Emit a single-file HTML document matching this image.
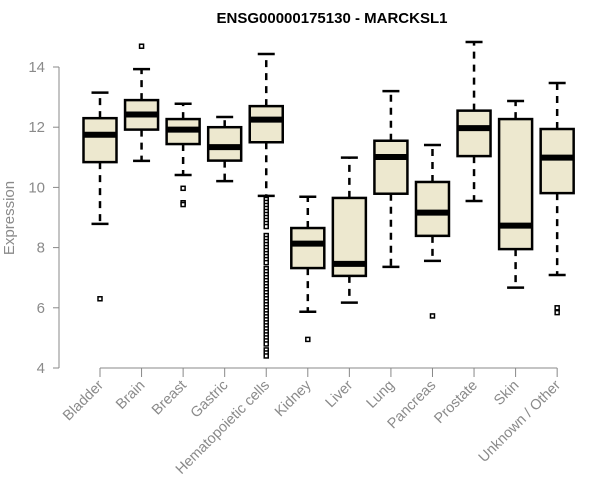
<!DOCTYPE html>
<html><head><meta charset="utf-8"><style>
body{margin:0;background:#fff;}
svg{display:block;font-family:"Liberation Sans",Arial,sans-serif;}
</style></head><body>
<svg id="chart" width="600" height="500">
<text x="332" y="23" text-anchor="middle" font-size="15" font-weight="bold">ENSG00000175130 - MARCKSL1</text>
<text transform="translate(14,218) rotate(-90)" text-anchor="middle" font-size="15" fill="#8a8a8a">Expression</text>
<g id="yaxis"></g>
<g id="xaxis"></g>
<g id="boxes"></g>
</svg>
<script>
const categories=["Bladder","Brain","Breast","Gastric","Hematopoietic cells","Kidney","Liver","Lung","Pancreas","Prostate","Skin","Unknown / Other"];
const whiskerLow=[8.79,10.88,10.41,10.21,9.72,5.87,6.17,7.36,7.56,9.55,6.67,7.09];
const q1=[10.84,11.92,11.44,10.89,11.5,7.32,7.06,9.79,8.39,11.04,7.95,9.81];
const medians=[11.75,12.42,11.92,11.34,12.25,8.13,7.46,11.01,9.16,11.97,8.73,10.99];
const q3=[12.3,12.9,12.27,12.0,12.7,8.65,9.65,11.55,10.18,12.55,12.27,11.94];
const whiskerHigh=[13.15,13.93,12.78,12.34,14.43,9.69,10.99,13.2,11.41,14.83,12.87,13.47];
const outliers=[[6.3],[14.69],[9.97,9.49,9.43],[],
[9.6,9.5,9.4,9.3,9.2,9.1,9.0,8.9,8.8,8.7,8.4,8.3,8.2,8.1,8.0,7.9,7.8,7.7,7.6,7.5,7.3,7.2,7.1,7.0,6.9,6.8,6.7,6.6,6.5,6.4,6.3,6.2,6.1,6.0,5.9,5.8,5.7,5.6,5.5,5.4,5.3,5.2,5.1,5.0,4.9,4.8,4.6,4.5,4.4],
[4.95],[],[],[5.73],[],[],[6.0,5.84]];
const yTicks=[4,6,8,10,12,14];
const NS="http://www.w3.org/2000/svg";
const y=v=>368-(v-4)*30.1;
const x=i=>100+i*41.56;
function mk(tag,attrs,parent){const e=document.createElementNS(NS,tag);for(const k in attrs)e.setAttribute(k,attrs[k]);parent.appendChild(e);return e;}
const ya=document.getElementById('yaxis'),xa=document.getElementById('xaxis'),bx=document.getElementById('boxes');
let l=mk('line',{x1:59,x2:59,y1:y(14),y2:y(4),stroke:'#888'},ya);


yTicks.forEach(t=>{
 let tk=mk('line',{x1:53,x2:59,y1:y(t),y2:y(t),stroke:'#888'},ya);
 
 
 let tx=mk('text',{x:45,y:y(t)+5,'text-anchor':'end','font-size':15,fill:'#8a8a8a'},ya);
 tx.textContent=t;
 
 
});
l=mk('line',{x1:x(0),x2:x(categories.length-1),y1:368,y2:368,stroke:'#888'},xa);


categories.forEach((c,i)=>{
 let tk=mk('line',{x1:x(i),x2:x(i),y1:368,y2:377,stroke:'#888'},xa);
 
 
 let tx=mk('text',{transform:`translate(${x(i)+4},${386}) rotate(-45)`,'text-anchor':'end','font-size':14.5,fill:'#8a8a8a'},xa);
 tx.textContent=c;
 
 
 const g=mk('g',{},bx);
 
 
 const cx=x(i),hw=16.5,cw=8.5;
 mk('line',{x1:cx,x2:cx,y1:y(q3[i]),y2:y(whiskerHigh[i]),stroke:'#000','stroke-width':2.5,'stroke-dasharray':'7,6'},g);
 mk('line',{x1:cx,x2:cx,y1:y(q1[i]),y2:y(whiskerLow[i]),stroke:'#000','stroke-width':2.5,'stroke-dasharray':'7,6'},g);
 mk('line',{x1:cx-cw,x2:cx+cw,y1:y(whiskerHigh[i]),y2:y(whiskerHigh[i]),stroke:'#000','stroke-width':2.5},g);
 mk('line',{x1:cx-cw,x2:cx+cw,y1:y(whiskerLow[i]),y2:y(whiskerLow[i]),stroke:'#000','stroke-width':2.5},g);
 mk('rect',{x:cx-hw,y:y(q3[i]),width:2*hw,height:y(q1[i])-y(q3[i]),fill:'#ede8cf',stroke:'#000','stroke-width':2.5},g);
 mk('line',{x1:cx-hw,x2:cx+hw,y1:y(medians[i]),y2:y(medians[i]),stroke:'#000','stroke-width':6},g);
 outliers[i].forEach(v=>{
  let r=mk('rect',{x:cx-2,y:y(v)-2,width:4,height:4,fill:'#fff',stroke:'#000','stroke-width':1.5},g);
  
  
 });
});
</script>
</body></html>
